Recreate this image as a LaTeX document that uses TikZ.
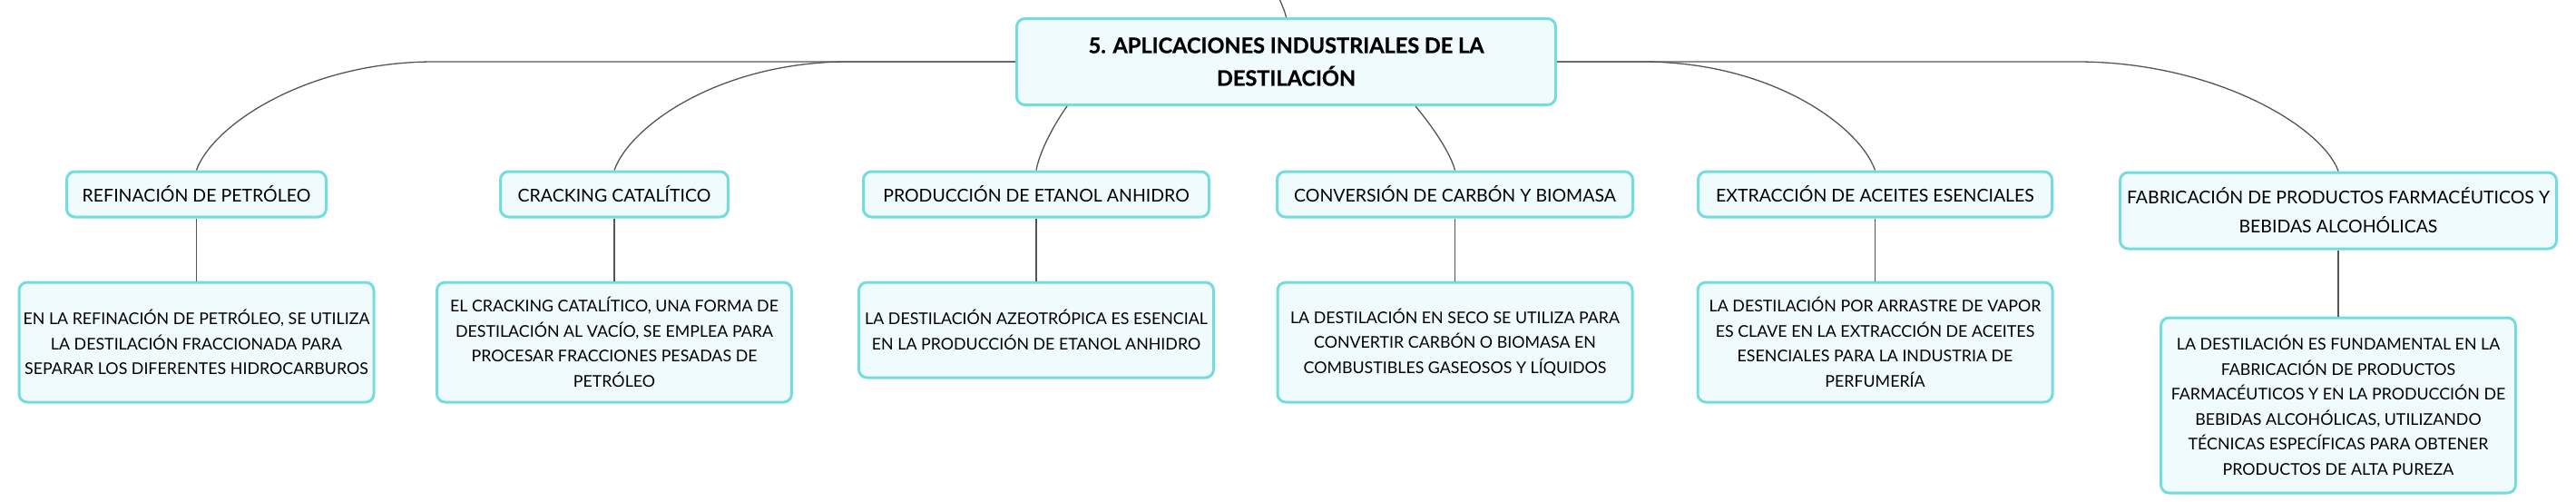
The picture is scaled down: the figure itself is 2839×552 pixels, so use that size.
\documentclass[tikz,border=0pt]{standalone}
\usepackage{fontspec}
\setmainfont{Lato}
\usepackage{xcolor}
\usepackage{tikz}
\usetikzlibrary{calc}
\definecolor{mapborder}{HTML}{74DCDD}
\definecolor{mapfill}{HTML}{EFFBFC}
\definecolor{linkgray}{HTML}{555555}

\begin{document}
\begin{tikzpicture}[x=1pt, y=-1pt,
    box/.style={draw=mapborder, fill=mapfill, line width=3pt, rounded corners=9pt, align=center, inner sep=0pt},
    rootbox/.style={box, font=\fontsize{23.5}{36}\selectfont\bfseries\addfontfeature{FakeBold=0.8}, minimum width=594pt, minimum height=95pt},
    topic/.style={box, anchor=north, font=\fontsize{19.5}{32}\selectfont, minimum height=50pt},
    note/.style={box, anchor=north, font=\fontsize{17.8}{27.5}\selectfont, minimum width=391pt, minimum height=132pt},
    link/.style={draw=linkgray, line width=1.3pt}]
  \useasboundingbox (0,0) rectangle (2839,552);
  \node[rootbox] (root) at (1417.5,68) {5. APLICACIONES INDUSTRIALES DE LA\\DESTILACIÓN};
  \coordinate (up) at (1404,-20);
  \draw[link] (up) .. controls +(5,20) and +(-2,-10) .. (root.north);
  % first level
  \node[topic, minimum width=286pt] (b1) at (216.5,187.5) {REFINACIÓN DE PETRÓLEO};
  \node[topic, minimum width=251pt] (b2) at (677,187.5) {CRACKING CATALÍTICO};
  \node[topic, minimum width=381pt] (b3) at (1142,187.5) {PRODUCCIÓN DE ETANOL ANHIDRO};
  \node[topic, minimum width=392pt] (b4) at (1603.5,187.5) {CONVERSIÓN DE CARBÓN Y BIOMASA};
  \node[topic, minimum width=390pt] (b5) at (2066.5,187.5) {EXTRACCIÓN DE ACEITES ESENCIALES};
  \node[topic, minimum width=481pt, minimum height=84pt] (b6) at (2577,188.5) {FABRICACIÓN DE PRODUCTOS FARMACÉUTICOS Y\\BEBIDAS ALCOHÓLICAS};
  % second level
  \node[note] (n1) at (216.5,309.5) {EN LA REFINACIÓN DE PETRÓLEO, SE UTILIZA\\LA DESTILACIÓN FRACCIONADA PARA\\SEPARAR LOS DIFERENTES HIDROCARBUROS};
  \node[note] (n2) at (677,309.5) {EL CRACKING CATALÍTICO, UNA FORMA DE\\DESTILACIÓN AL VACÍO, SE EMPLEA PARA\\PROCESAR FRACCIONES PESADAS DE\\PETRÓLEO};
  \node[note, minimum height=105pt] (n3) at (1142,309.5) {LA DESTILACIÓN AZEOTRÓPICA ES ESENCIAL\\EN LA PRODUCCIÓN DE ETANOL ANHIDRO};
  \node[note] (n4) at (1603.5,309.5) {LA DESTILACIÓN EN SECO SE UTILIZA PARA\\CONVERTIR CARBÓN O BIOMASA EN\\COMBUSTIBLES GASEOSOS Y LÍQUIDOS};
  \node[note] (n5) at (2066.5,309.5) {LA DESTILACIÓN POR ARRASTRE DE VAPOR\\ES CLAVE EN LA EXTRACCIÓN DE ACEITES\\ESENCIALES PARA LA INDUSTRIA DE\\PERFUMERÍA};
  \node[note, minimum height=193pt] (n6) at (2577,348.5) {LA DESTILACIÓN ES FUNDAMENTAL EN LA\\FABRICACIÓN DE PRODUCTOS\\FARMACÉUTICOS Y EN LA PRODUCCIÓN DE\\BEBIDAS ALCOHÓLICAS, UTILIZANDO\\TÉCNICAS ESPECÍFICAS PARA OBTENER\\PRODUCTOS DE ALTA PUREZA};
  % links
  \draw[link] (root.west) -- ($(b1.north |- root.west)+(262,0)$) .. controls +(-140,0) and +(18,-50) .. (b1.north);
  \draw[link] (root.west) -- ($(b2.north |- root.west)+(258,0)$) .. controls +(-140,0) and +(18,-50) .. (b2.north);
  \draw[link] ($(root.south)+(-241.5,0)$) .. controls +(-13,18) and +(4,-22) .. (b3.north);
  \draw[link] ($(root.south)+(142.5,0)$) .. controls +(15,18) and +(-6,-22) .. (b4.north);
  \draw[link] (root.east) -- ($(b5.north |- root.east)+(-256,0)$) .. controls +(140,0) and +(-18,-50) .. (b5.north);
  \draw[link] (root.east) -- ($(b6.north |- root.east)+(-288,0)$) .. controls +(150,0) and +(-18,-50) .. (b6.north);
  \foreach \i in {1,...,6}
    \draw[link] (b\i.south) -- (n\i.north);
\end{tikzpicture}
\end{document}
